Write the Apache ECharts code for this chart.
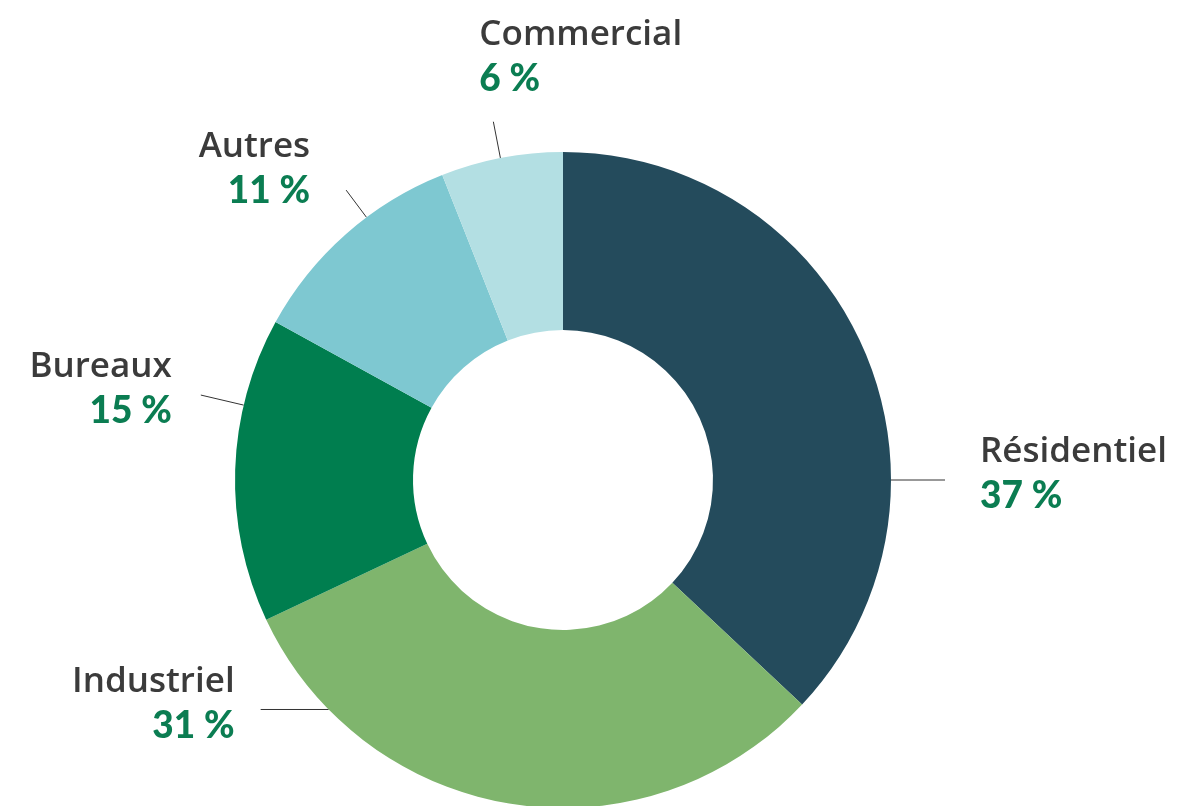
<!DOCTYPE html>
<html>
<head>
<meta charset="utf-8">
<script src="https://cdn.jsdelivr.net/npm/echarts@6/dist/echarts.min.js"></script>
<style>
    html, body { margin: 0; padding: 0; background: #fff; }
    #chart { width: 1180px; height: 806px; }
</style>
</head>
<body>
<div id="chart"></div>
<script>
// data
const categories = ['Résidentiel', 'Industriel', 'Bureaux', 'Autres', 'Commercial']
const shares = [37, 31, 15, 11, 6]
const colors = ['#244b5c', '#7fb56d', '#007e4f', '#7ec8d1', '#b3dfe3']

// label placement (degrees clockwise from 12 o'clock)
const anchorDeg = [90, 225.6, 283.2, 323.2, 349]
const lineDeg = [90, 270, 283.2, 323.2, 349]
const lineLen = [54, 68, 44, 34, 37]
const labelOffset = [[35, -6], [-26, -5], [-29, -6], [-36, -21], [-14, -65]]
const labelAlign = ['left', 'right', 'right', 'right', 'left']

const cx = 563
const cy = 480
const outerR = 328
const innerR = 150

function polar(x, y, r, deg) {
    const a = deg * Math.PI / 180
    return [x + r * Math.sin(a), y - r * Math.cos(a)]
}

const chart = echarts.init(document.getElementById('chart'))

const option = {
    animation: false,
    series: [
        {
            type: 'pie',
            center: [cx, cy],
            radius: [innerR, outerR],
            startAngle: 90,
            clockwise: true,
            data: categories.map((name, i) => ({
                name: name,
                value: shares[i],
                itemStyle: { color: colors[i] },
            })),
            label: {
                show: true,
                position: 'outside',
                formatter: p => '{n|' + p.name + '}\n{p|' + p.value + ' %}',
                rich: {
                    n: {
                        fontFamily: 'Open Sans',
                        fontSize: 35,
                        fontWeight: 600,
                        color: '#3b3b3b',
                        lineHeight: 44,
                    },
                    p: {
                        fontFamily: 'Lato',
                        fontSize: 37,
                        fontWeight: 900,
                        color: '#0b7d52',
                        lineHeight: 44,
                    },
                },
            },
            labelLine: {
                show: true,
                lineStyle: { color: '#333', width: 1 },
            },
            labelLayout: function (params) {
                const i = params.dataIndex
                const start = polar(cx, cy, outerR, anchorDeg[i])
                const end = polar(start[0], start[1], lineLen[i], lineDeg[i])
                return {
                    x: end[0] + labelOffset[i][0],
                    y: end[1] + labelOffset[i][1],
                    align: labelAlign[i],
                    verticalAlign: 'middle',
                    labelLinePoints: [start, end, end],
                }
            },
        },
    ],
}

chart.setOption(option)
</script>
</body>
</html>
